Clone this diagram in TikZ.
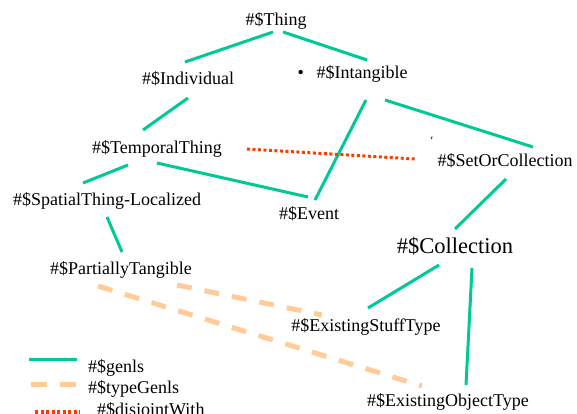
\documentclass[tikz,border=0pt]{standalone}
\usepackage{fontspec}
\setmainfont{Liberation Serif}
\definecolor{genlsgreen}{RGB}{0,200,150}
\definecolor{typeorange}{RGB}{255,204,153}
\definecolor{disjred}{RGB}{255,60,0}
\begin{document}
\begin{tikzpicture}[x=1pt,y=-1pt,
  concept/.style={inner sep=0pt, text height=1.0em, text depth=0.15em, font=\fontsize{18}{21}\selectfont},
  bigconcept/.style={concept, font=\fontsize{22.5}{26}\selectfont},
  genls/.style={draw=genlsgreen, line width=3pt},
  typegenls/.style={draw=typeorange, line width=5pt, dash pattern=on 15pt off 13pt},
  disjoint/.style={draw=disjred, line width=3pt, dash pattern=on 3pt off 2.5pt}]
\useasboundingbox (0,0) rectangle (577,414);

% concepts
\node[concept] (thing)    at (276,21)  {\#\$Thing};
\node[concept] (indiv)    at (188,80)  {\#\$Individual};
\node[concept] (intang)   at (362,74)  {\#\$Intangible};
\node[concept, anchor=east] (intbullet) at (304,74) {•};
\node[concept] (temporal) at (157,149) {\#\$TemporalThing};
\node[concept] (spatial)  at (107,201) {\#\$SpatialThing-Localized};
\node[concept] (partial)  at (121,270) {\#\$PartiallyTangible};
\node[concept] (event)    at (309,215) {\#\$Event};
\node[concept] (setorcol) at (505,162) {\#\$SetOrCollection};
\node[bigconcept] (coll)  at (455,249) {\#\$Collection};
\node[concept] (stuff)    at (366,327) {\#\$ExistingStuffType};
\node[concept] (object)   at (448,402) {\#\$ExistingObjectType};

% genls links
\draw[genls] ([shift={(-3,11)}]thing.center) -- ([shift={(-3,-18)}]indiv.center);
\draw[genls] ([shift={(7,11)}]thing.center) -- ([shift={(5,-14)}]intang.center);
\draw[genls] ([shift={(0,18)}]indiv.center) -- ([shift={(-14,-19)}]temporal.center);
\draw[genls] ([shift={(4,26)}]intang.center) -- ([shift={(6,-15)}]event.center);
\draw[genls] ([shift={(23,26)}]intang.center) -- ([shift={(28,-15)}]setorcol.center);
\draw[genls] ([shift={(-29,16)}]temporal.center) -- ([shift={(-24,-18)}]spatial.center);
\draw[genls] ([shift={(0,14)}]temporal.center) -- ([shift={(-1,-18)}]event.center);
\draw[genls] ([shift={(0,16)}]spatial.center) -- ([shift={(1,-18)}]partial.center);
\draw[genls] ([shift={(1,17)}]setorcol.center) -- ([shift={(0,-20)}]coll.center);
\draw[genls] ([shift={(-16,16)}]coll.center) -- ([shift={(2,-19)}]stuff.center);
\draw[genls] ([shift={(17,19)}]coll.center) -- ([shift={(18,-17)}]object.center);

% typeGenls links
\draw[typegenls] ([shift={(56,15)}]partial.center) -- ([shift={(-44,-12)}]stuff.center);
\draw[typegenls] ([shift={(-23,16)}]partial.center) -- ([shift={(-26,-16)}]object.center);

% disjointWith link
\draw[disjoint] ([shift={(90,0)}]temporal.center) -- ([shift={(-90,-3)}]setorcol.center);

% small stray tick
\coordinate (ticka) at (432,136.5);
\coordinate (tickb) at (431.5,139);
\draw[line width=0.8pt] (ticka) -- (tickb);

% legend
\coordinate (lga1) at (29,359);  \coordinate (lga2) at (77,359);
\coordinate (lgb1) at (31,384);  \coordinate (lgb2) at (77,384);
\coordinate (lgc1) at (35,412);  \coordinate (lgc2) at (80,412);
\draw[genls] (lga1) -- (lga2);
\draw[typegenls, dash pattern=on 16pt off 13pt] (lgb1) -- (lgb2);
\draw[disjoint, line width=4pt] (lgc1) -- (lgc2);
\node[concept, anchor=west] (lgtxta) at (88,368) {\#\$genls};
\node[concept, anchor=west] (lgtxtb) at (88,389) {\#\$typeGenls};
\node[concept, anchor=west] (lgtxtc) at (97,411) {\#\$disjointWith};
\end{tikzpicture}
\end{document}
